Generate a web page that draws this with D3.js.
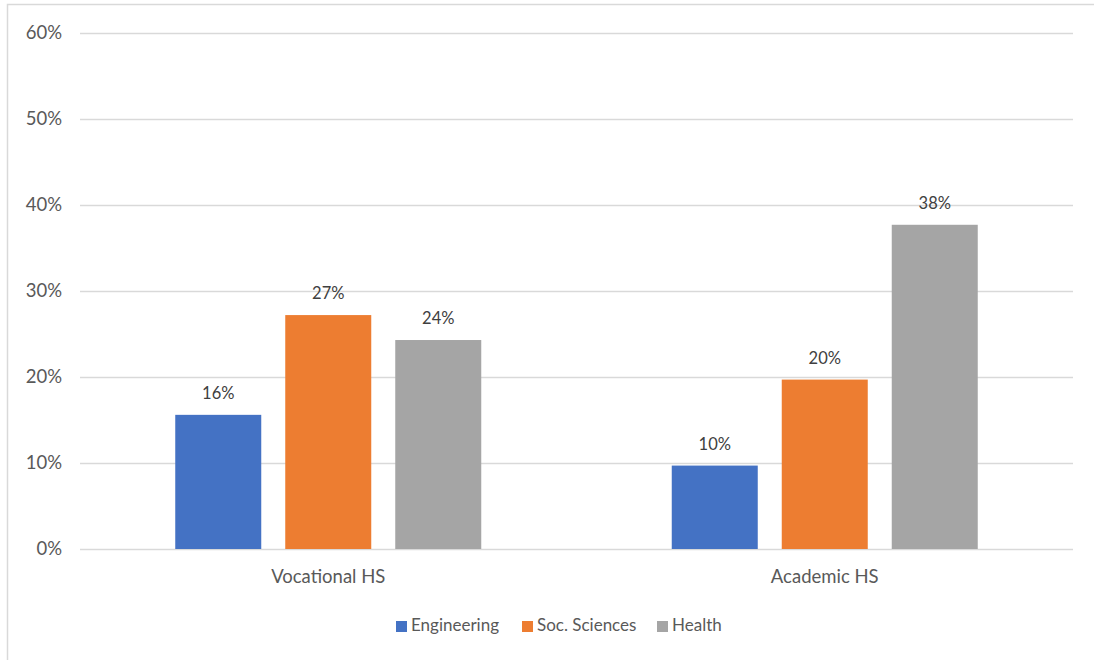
<!DOCTYPE html>
<html>
<head>
<meta charset="utf-8">
<script src="https://cdn.jsdelivr.net/npm/d3@7"></script>
<style>
  html, body { margin: 0; padding: 0; background: #fff; }
  svg { display: block; font-family: Lato, "Open Sans", sans-serif; }
</style>
</head>
<body>
<svg id="chart" width="1094" height="660"></svg>
<script>
// School types on the x axis
const categories = ["Vocational HS", "Academic HS"];
// Fields of study (one bar per field within each school type)
const seriesNames = ["Engineering", "Soc. Sciences", "Health"];
// Share of students per field, in order of categories
const engineering = [0.156, 0.097];
const socSciences = [0.272, 0.197];
const health = [0.243, 0.377];
// Y axis ticks
const yTicks = [0, 0.1, 0.2, 0.3, 0.4, 0.5, 0.6];

const colors = ["#4472c4", "#ed7d31", "#a5a5a5"];
const seriesValues = [engineering, socSciences, health];

const svg = d3.select("#chart");
const W = 1094, H = 660;

// chart frame
svg.append("rect")
  .attr("x", 7.5).attr("y", 4.5)
  .attr("width", W + 10).attr("height", H + 10)
  .attr("fill", "#fff").attr("stroke", "#d9d9d9").attr("stroke-width", 1.5);

const plot = { left: 80, right: 1073, top: 33, bottom: 549 };

const x0 = d3.scaleBand().domain(categories).range([plot.left, plot.right]).paddingInner(0).paddingOuter(0);
const groupWidth = 306;
const x1 = d3.scaleBand().domain(seriesNames).range([0, groupWidth]).paddingInner(24 / 110).paddingOuter(0);
const y = d3.scaleLinear().domain([0, 0.6]).range([plot.bottom, plot.top]);
const pct = d3.format(".0%");

// gridlines
svg.append("g")
  .selectAll("line").data(yTicks).join("line")
  .attr("x1", plot.left).attr("x2", plot.right)
  .attr("y1", d => Math.round(y(d)) + 0.5).attr("y2", d => Math.round(y(d)) + 0.5)
  .attr("stroke", "#d9d9d9").attr("stroke-width", 1.3);

// y axis labels
const yAxis = d3.axisLeft(y).tickValues(yTicks).tickFormat(pct).tickSize(0).tickPadding(0);
const gy = svg.append("g").attr("transform", `translate(${plot.left - 18},0)`).call(yAxis);
gy.select(".domain").remove();
gy.selectAll("text")
  .attr("font-family", "Lato, 'Open Sans', sans-serif")
  .attr("font-size", 18.5).attr("fill", "#595959");

// x axis labels
const xAxis = d3.axisBottom(x0).tickSize(0).tickPadding(0);
const gx = svg.append("g").attr("transform", `translate(0,${plot.bottom + 21})`).call(xAxis);
gx.select(".domain").remove();
gx.selectAll("text")
  .attr("font-family", "Lato, 'Open Sans', sans-serif")
  .attr("font-size", 18.5).attr("fill", "#595959");

// bars
const rows = [];
categories.forEach((c, ci) => {
  seriesNames.forEach((s, si) => rows.push({ cat: c, series: s, si, value: seriesValues[si][ci] }));
});
const groupX = c => x0(c) + (x0.bandwidth() - groupWidth) / 2;

svg.append("g").selectAll("rect").data(rows).join("rect")
  .attr("x", d => groupX(d.cat) + x1(d.series))
  .attr("y", d => y(d.value))
  .attr("width", x1.bandwidth())
  .attr("height", d => y(0) - y(d.value))
  .attr("fill", d => colors[d.si]);

// value labels
svg.append("g").selectAll("text").data(rows).join("text")
  .attr("x", d => groupX(d.cat) + x1(d.series) + x1.bandwidth() / 2)
  .attr("y", d => y(d.value) - 16)
  .attr("text-anchor", "middle")
  .attr("font-size", 16.5).attr("fill", "#404040")
  .text(d => pct(d.value));

// legend
const legendItems = [
  { name: "Engineering", x: 396 },
  { name: "Soc. Sciences", x: 522 },
  { name: "Health", x: 657 }
];
const lg = svg.append("g");
legendItems.forEach((it, i) => {
  lg.append("rect").attr("x", it.x).attr("y", 621).attr("width", 11).attr("height", 11).attr("fill", colors[i]);
  lg.append("text").attr("x", it.x + 15).attr("y", 631)
    .attr("font-size", 17).attr("fill", "#595959").text(it.name);
});
</script>
</body>
</html>
